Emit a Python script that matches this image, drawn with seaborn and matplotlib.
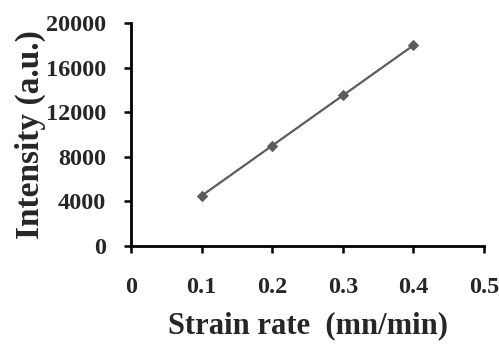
import pandas as pd
import matplotlib.pyplot as plt
import seaborn as sns

# datos
strain_rate = [0.1, 0.2, 0.3, 0.4]
intensity = [4500, 9000, 13500, 18000]
x_ticks = [0, 0.1, 0.2, 0.3, 0.4, 0.5]
y_ticks = [0, 4000, 8000, 12000, 16000, 20000]

df = pd.DataFrame({"strain": strain_rate, "intensity": intensity})

sns.set_style("ticks")
plt.rcParams["font.family"] = ["Liberation Serif", "DejaVu Serif"]
plt.rcParams["font.weight"] = "bold"

fig = plt.figure(figsize=(4.99, 3.44), dpi=100)
ax = fig.add_axes([0.2625, 0.285, 0.7075, 0.648])

sns.lineplot(data=df, x="strain", y="intensity", ax=ax, color="#5c5c5c",
             marker="D", markersize=5, markeredgecolor="#5c5c5c", linewidth=1.6)

ax.set_xlim(0, 0.5)
ax.set_ylim(0, 20000)
ax.set_xticks(x_ticks)
ax.set_xticklabels(["0", "0.1", "0.2", "0.3", "0.4", "0.5"])
ax.set_yticks(y_ticks)
ax.set_yticklabels([str(v) for v in y_ticks])
ax.tick_params(axis="both", labelsize=17.5, width=1.8, length=5, color="black")
ax.tick_params(axis="x", pad=17)
ax.tick_params(axis="y", pad=13)
for s in ["left", "bottom"]:
    ax.spines[s].set_linewidth(2)
    ax.spines[s].set_color("black")
sns.despine(ax=ax)

ax.set_xlabel("Strain rate  (mn/min)", fontsize=22, fontweight="bold", labelpad=10)
ax.set_ylabel("Intensity (a.u.)", fontsize=24, fontweight="bold", labelpad=0)

fig.savefig("out.png", dpi=100)
